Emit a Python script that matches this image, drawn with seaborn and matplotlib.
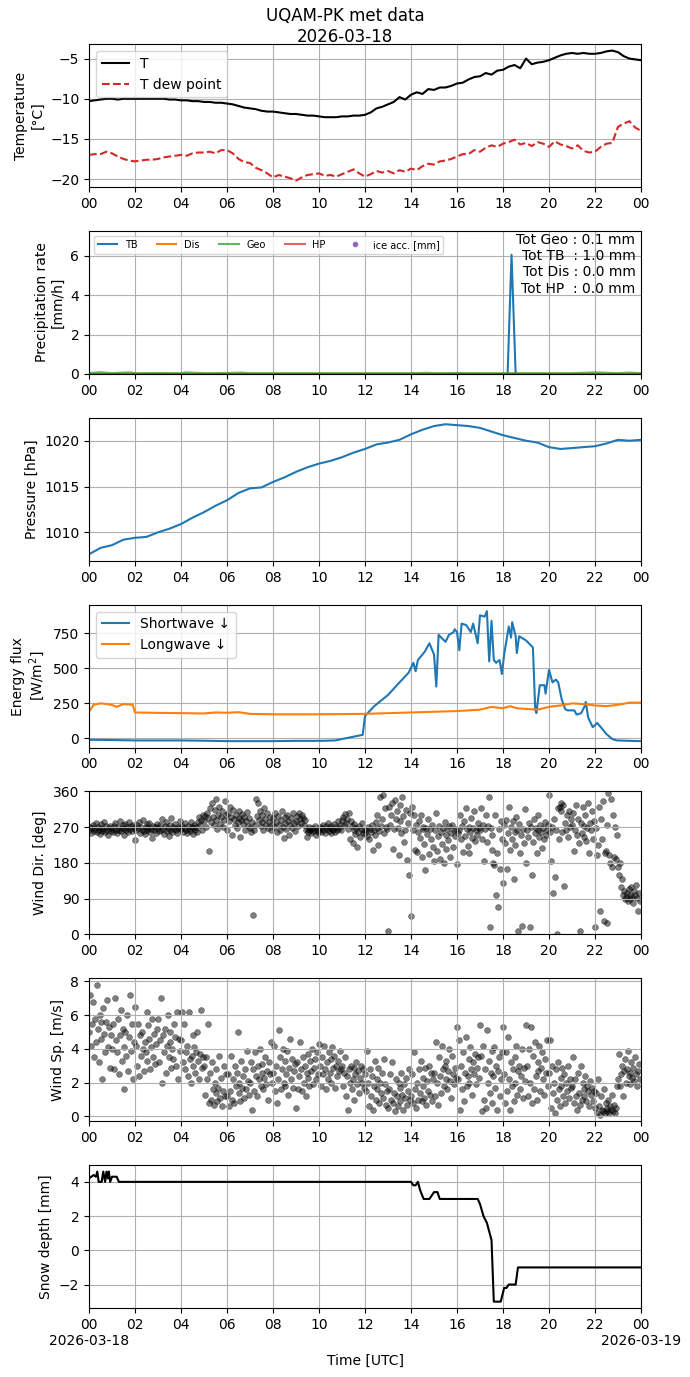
"""
UQAM-PK met data, daily summary plot (2026-03-18)
"""

import numpy as np
import pandas as pd
import matplotlib
matplotlib.use("Agg")
import matplotlib.pyplot as plt
import matplotlib.dates as mdates
import seaborn as sns

DAY = pd.Timestamp("2026-03-18")

# Temperature, 15 min steps [degC]
temp_hours = np.arange(0, 24.01, 0.25)
temp_air = [
    -10.3, -10.2, -10.1, -10.0, -10.0, -10.1, -10.0, -10.0,
    -10.0, -10.0, -10.0, -10.0, -10.0, -10.0, -10.1, -10.1,
    -10.2, -10.2, -10.3, -10.3, -10.4, -10.4, -10.5, -10.5,
    -10.6, -10.7, -10.9, -11.1, -11.2, -11.3, -11.5, -11.6,
    -11.6, -11.7, -11.8, -11.9, -11.9, -12.0, -12.1, -12.1,
    -12.2, -12.3, -12.3, -12.3, -12.2, -12.2, -12.1, -12.1,
    -12.0, -11.7, -11.2, -11.0, -10.7, -10.4, -9.8, -10.1,
    -9.5, -9.2, -9.4, -8.8, -8.9, -8.6, -8.6, -8.4,
    -8.1, -8.0, -7.6, -7.3, -7.2, -6.8, -7.0, -6.5,
    -6.4, -6.0, -5.8, -6.2, -5.0, -5.7, -5.5, -5.4,
    -5.2, -4.9, -4.6, -4.4, -4.3, -4.4, -4.3, -4.4,
    -4.4, -4.3, -4.1, -4.0, -4.2, -4.7, -5.0, -5.1,
    -5.2,
]
temp_dew = [
    -17.0, -16.9, -16.9, -16.6, -16.8, -17.2, -17.5, -17.7,
    -17.8, -17.7, -17.6, -17.6, -17.5, -17.3, -17.2, -17.1,
    -17.0, -17.1, -16.8, -16.7, -16.7, -16.6, -16.8, -16.4,
    -16.4, -16.8, -17.5, -17.9, -18.0, -18.6, -18.9, -19.3,
    -19.8, -19.5, -19.7, -19.9, -20.2, -19.8, -19.5, -19.4,
    -19.3, -19.6, -19.5, -19.7, -19.4, -19.1, -18.8, -19.3,
    -19.7, -19.4, -19.0, -19.2, -19.0, -19.3, -18.9, -19.1,
    -18.7, -18.9, -18.4, -18.1, -18.2, -17.8, -17.7, -17.5,
    -17.2, -16.9, -16.9, -16.4, -16.6, -16.1, -15.8, -16.0,
    -15.6, -15.4, -15.1, -15.7, -15.5, -15.9, -15.4, -15.6,
    -16.0, -15.3, -15.7, -15.9, -16.2, -15.8, -16.5, -16.7,
    -16.6, -16.0, -15.6, -15.5, -13.5, -13.1, -12.8, -13.6,
    -14.0,
]

# Precipitation rate [mm/h]
tb_hours = [18.2, 18.37, 18.55]
tb_rate = [0.0, 6.05, 0.0]
geo_hours = [0, 0.5, 1, 1.5, 1.8, 2, 3, 4, 4.2, 5, 6, 6.6, 7, 8, 9, 10, 11, 12,
             13, 14, 14.7, 15, 16, 17, 18, 19, 20, 21, 22, 23, 23.5, 24]
geo_rate = [0.05, 0.09, 0.04, 0.07, 0.08, 0.04, 0.05, 0.04, 0.08, 0.04, 0.05,
            0.07, 0.04, 0.04, 0.04, 0.04, 0.04, 0.04, 0.04, 0.04, 0.06, 0.04,
            0.05, 0.04, 0.04, 0.04, 0.04, 0.04, 0.08, 0.04, 0.07, 0.04]
dis_hours = [0, 24]
dis_rate = [0.0, 0.0]
hp_hours = [0, 24]
hp_rate = [0.0, 0.0]
ice_hours = [12.0]
ice_acc = [np.nan]
totals = {"Geo": 0.1, "TB": 1.0, "Dis": 0.0, "HP": 0.0}

# Pressure, 30 min steps [hPa]
pres_hours = np.arange(0, 24.01, 0.5)
pressure = [
    1007.6, 1008.3, 1008.6, 1009.2, 1009.4, 1009.5, 1010.0, 1010.4,
    1010.9, 1011.6, 1012.2, 1012.9, 1013.5, 1014.3, 1014.8, 1014.9,
    1015.5, 1016.0, 1016.6, 1017.1, 1017.5, 1017.8, 1018.2, 1018.7,
    1019.1, 1019.6, 1019.8, 1020.1, 1020.7, 1021.2, 1021.6, 1021.8,
    1021.7, 1021.6, 1021.4, 1021.0, 1020.6, 1020.3, 1020.0, 1019.8,
    1019.3, 1019.1, 1019.2, 1019.3, 1019.4, 1019.7, 1020.1, 1020.0,
    1020.1,
]

# Radiation [W/m2]
sw_hours = [0, 1, 2, 3, 4, 5, 6, 7, 8, 9, 10, 10.7, 11.3, 11.9, 12.0, 12.4,
            13.0, 13.5, 13.9, 14.1, 14.2, 14.3, 14.6, 14.8, 15.0, 15.1, 15.2,
            15.5, 15.65, 15.85, 15.9, 16.0, 16.1, 16.2, 16.4, 16.6, 16.7,
            16.9, 17.0, 17.2, 17.3, 17.4, 17.5, 17.6, 17.7, 17.85, 17.95,
            18.05, 18.25, 18.35, 18.4, 18.55, 18.6, 18.7, 19.0, 19.3, 19.4,
            19.45, 19.6, 19.8, 19.85, 20.0, 20.15, 20.3, 20.4, 20.55, 20.7,
            20.8, 21.1, 21.2, 21.4, 21.55, 21.6, 21.7, 21.9, 22.1, 22.3, 22.5,
            22.75, 22.95, 23.5, 24]
sw_down = [-10, -12, -15, -15, -15, -17, -20, -20, -20, -18, -18, -15, 5, 25,
           160, 230, 310, 400, 470, 540, 480, 560, 620, 680, 600, 370, 740,
           690, 740, 760, 780, 760, 630, 820, 810, 760, 820, 680, 880, 870,
           910, 550, 840, 560, 540, 560, 460, 600, 800, 720, 830, 730, 610,
           730, 700, 650, 210, 180, 380, 380, 320, 490, 400, 420, 400, 280,
           210, 200, 200, 170, 180, 230, 260, 150, 80, 110, 70, 30, -5, -15,
           -18, -20]
lw_hours = [0, 0.2, 0.5, 0.8, 1.0, 1.2, 1.5, 1.9, 2.0, 3, 4, 5, 5.5, 6, 6.5,
            7, 8, 10, 12, 14, 16, 17, 17.5, 18.0, 18.3, 18.6, 19.5, 20, 20.5,
            21, 21.5, 22, 22.5, 23, 23.5, 24]
lw_down = [190, 240, 250, 245, 238, 225, 245, 240, 185, 182, 180, 178, 185,
           183, 187, 175, 172, 172, 175, 185, 195, 205, 225, 215, 230, 215,
           205, 225, 235, 250, 245, 235, 230, 240, 255, 255]

# Wind, 2.5 min steps (one row per hour)
wind_dir = [
    262, 270, 255, 268, 275, 260, 266, 280, 258, 271, 264, 252, 269, 277, 261, 266, 283, 257, 272, 263, 250, 268, 274, 260,
    266, 259, 273, 281, 262, 255, 270, 264, 286, 260, 268, 275, 251, 266, 279, 262, 270, 258, 284, 265, 272, 260, 276, 267,
    238, 262, 275, 268, 283, 256, 271, 264, 288, 260, 252, 270, 277, 262, 268, 281, 259, 266, 244, 273, 262, 270, 255, 279,
    268, 260, 276, 262, 290, 266, 254, 272, 283, 261, 269, 248, 275, 264, 292, 258, 270, 266, 279, 262, 255, 271, 268, 285,
    265, 272, 258, 268, 280, 262, 255, 274, 266, 261, 282, 270, 252, 268, 276, 263, 270, 258, 284, 296, 275, 288, 262, 300,
    285, 298, 270, 305, 292, 210, 318, 282, 330, 296, 275, 312, 288, 340, 265, 300, 322, 278, 295, 310, 270, 288, 335, 300,
    262, 305, 285, 320, 295, 250, 312, 290, 275, 300, 268, 282, 310, 294, 245, 288, 303, 278, 296, 262, 285, 308, 272, 292,
    268, 258, 284, 48, 262, 275, 340, 298, 330, 288, 310, 272, 300, 282, 262, 318, 290, 276, 305, 268, 284, 296, 262, 278,
    292, 270, 305, 282, 258, 298, 275, 262, 288, 310, 270, 242, 295, 280, 265, 300, 285, 250, 276, 292, 268, 305, 281, 260,
    285, 298, 272, 305, 290, 280, 300, 292, 276, 288, 262, 245, 265, 258, 270, 262, 255, 268, 260, 266, 272, 250, 264, 258,
    262, 270, 258, 268, 276, 262, 255, 272, 266, 280, 260, 268, 274, 256, 266, 262, 278, 258, 270, 264, 285, 268, 275, 262,
    288, 296, 275, 302, 280, 290, 266, 305, 240, 285, 272, 230, 262, 278, 252, 268, 220, 258, 272, 245, 266, 280, 255, 262,
    255, 262, 248, 270, 240, 266, 258, 275, 212, 262, 250, 282, 268, 300, 225, 260, 345, 272, 290, 350, 255, 318, 270, 265,
    8, 322, 275, 300, 330, 215, 265, 338, 290, 310, 268, 200, 326, 285, 255, 345, 298, 232, 262, 312, 188, 280, 150, 305,
    46, 320, 262, 300, 212, 275, 208, 258, 285, 242, 300, 196, 265, 270, 228, 162, 268, 252, 290, 203, 265, 240, 275, 220,
    185, 262, 305, 210, 248, 272, 190, 258, 228, 268, 180, 282, 250, 214, 265, 238, 272, 196, 256, 275, 220, 262, 248, 266,
    178, 255, 262, 300, 240, 272, 208, 286, 248, 318, 265, 222, 270, 205, 258, 292, 244, 268, 310, 235, 262, 250, 280, 268,
    262, 318, 240, 276, 186, 265, 300, 232, 272, 345, 20, 268, 212, 250, 180, 175, 300, 100, 205, 70, 265, 165, 285, 240,
    130, 275, 230, 288, 165, 255, 320, 212, 270, 240, 285, 140, 258, 225, 295, 262, 10, 278, 205, 250, 22, 265, 230, 315,
    180, 262, 245, 280, 20, 270, 150, 232, 290, 255, 268, 205, 300, 262, 245, 275, 258, 218, 268, 240, 282, 250, 262, 275,
    352, 258, 185, 270, 105, 290, 145, 262, 0, 318, 240, 320, 330, 310, 258, 325, 122, 280, 262, 300, 245, 310, 270, 290,
    275, 305, 210, 262, 325, 250, 290, 230, 8, 280, 255, 320, 272, 245, 300, 235, 268, 330, 205, 280, 262, 310, 240, 285,
    20, 268, 200, 225, 320, 60, 290, 240, 335, 35, 205, 210, 275, 30, 355, 200, 180, 340, 170, 300, 195, 270, 190, 250,
    170, 150, 180, 120, 140, 100, 110, 90, 95, 105, 85, 115, 100, 90, 120, 95, 80, 110, 100, 125, 92, 60, 105, 85,
]
wind_speed = [
    5.0, 7.2, 4.2, 5.5, 6.8, 3.5, 5.8, 4.4, 7.8, 5.2, 3.2, 6.0, 4.6, 5.6, 2.2, 6.4, 4.9, 3.8, 5.6, 6.9, 4.1, 5.3, 2.9, 4.8,
    4.0, 5.5, 2.8, 7.0, 4.5, 3.8, 5.8, 2.5, 4.8, 6.3, 3.3, 5.2, 4.1, 1.6, 5.0, 3.6, 6.0, 2.7, 4.7, 7.2, 3.9, 5.5, 2.2, 4.4,
    6.5, 4.2, 3.0, 5.5, 2.4, 4.8, 3.6, 5.0, 4.0, 2.7, 4.4, 3.8, 6.2, 3.3, 5.4, 4.6, 2.8, 4.1, 5.8, 3.5, 4.9, 3.1, 4.3, 5.2,
    5.8, 3.2, 4.5, 7.0, 2.0, 4.8, 3.8, 5.2, 2.6, 4.2, 6.0, 3.5, 4.4, 5.0, 2.9, 4.0, 3.4, 5.5, 4.7, 3.0, 6.2, 2.2, 4.6, 3.9,
    4.5, 6.2, 3.2, 5.5, 2.8, 3.8, 4.2, 2.4, 6.2, 3.4, 2.0, 3.6, 4.8, 3.0, 4.1, 2.6, 3.8, 5.0, 3.3, 2.2, 3.7, 6.3, 2.9, 3.5,
    3.0, 1.3, 3.5, 2.2, 5.5, 0.8, 2.6, 1.0, 3.2, 1.6, 0.7, 2.0, 1.4, 2.8, 0.9, 1.7, 3.6, 1.1, 2.3, 0.6, 1.5, 3.0, 1.2, 2.5,
    1.2, 2.5, 0.6, 1.5, 3.6, 1.0, 2.2, 0.8, 3.0, 1.8, 2.6, 5.0, 1.4, 2.0, 0.9, 3.3, 1.7, 2.4, 1.1, 2.8, 1.6, 3.9, 2.1, 1.3,
    2.0, 3.2, 0.4, 2.8, 1.5, 3.8, 2.4, 1.2, 3.0, 2.2, 4.0, 1.8, 2.6, 3.1, 1.6, 2.3, 3.5, 1.9, 2.7, 1.0, 3.2, 2.5, 4.4, 2.0,
    2.6, 4.2, 1.5, 3.0, 0.8, 2.2, 5.1, 3.5, 1.6, 2.8, 4.0, 2.0, 3.3, 1.8, 2.5, 3.9, 1.3, 2.9, 4.6, 2.2, 3.4, 1.7, 2.7, 3.1,
    0.5, 3.2, 1.6, 2.4, 4.4, 2.8, 1.5, 3.5, 2.0, 3.0, 1.2, 2.6, 3.7, 2.3, 1.8, 3.3, 2.7, 4.0, 1.9, 2.9, 3.4, 2.2, 3.8, 2.5,
    4.3, 3.0, 1.8, 3.5, 2.5, 4.2, 2.8, 1.6, 3.2, 2.2, 3.8, 2.6, 3.4, 2.0, 4.1, 2.9, 3.6, 1.7, 3.0, 2.4, 3.3, 2.7, 3.9, 2.8,
    3.0, 1.8, 2.6, 3.5, 1.2, 2.4, 0.4, 2.8, 2.0, 3.0, 1.6, 2.2, 2.9, 1.0, 2.5, 3.2, 1.9, 2.7, 1.4, 2.3, 3.0, 2.0, 2.8, 1.7,
    2.5, 1.5, 3.9, 2.0, 0.6, 2.8, 1.2, 2.4, 0.4, 1.8, 3.3, 1.0, 2.2, 1.6, 2.9, 0.8, 2.0, 1.4, 2.6, 1.1, 3.4, 1.9, 0.7, 1.5,
    0.5, 1.6, 2.5, 1.0, 3.2, 0.8, 1.4, 0.3, 2.2, 1.2, 0.6, 2.0, 1.7, 0.9, 2.6, 1.3, 0.4, 1.9, 1.1, 2.3, 0.7, 1.5, 2.8, 1.0,
    1.2, 2.5, 0.8, 3.8, 1.6, 0.5, 2.0, 1.0, 2.8, 1.4, 3.3, 0.9, 1.8, 2.3, 1.1, 2.9, 0.7, 2.1, 1.5, 3.0, 1.3, 2.6, 0.9, 2.2,
    2.6, 1.2, 4.4, 2.0, 0.7, 3.5, 2.4, 1.4, 4.2, 2.8, 1.8, 3.0, 2.2, 3.3, 1.6, 2.7, 4.0, 2.1, 1.1, 3.6, 2.5, 1.9, 2.9, 2.3,
    5.3, 2.2, 4.5, 0.4, 3.0, 1.6, 3.8, 0.9, 2.6, 4.7, 1.8, 2.4, 3.4, 2.0, 4.1, 2.8, 1.3, 3.2, 2.5, 3.7, 1.9, 2.9, 3.5, 2.3,
    5.4, 3.6, 0.3, 4.2, 1.0, 2.8, 0.5, 5.1, 2.0, 3.3, 1.4, 2.6, 3.9, 0.8, 2.4, 4.1, 1.7, 3.0, 0.4, 2.7, 3.5, 1.2, 2.2, 3.8,
    5.3, 2.5, 0.8, 3.8, 1.5, 4.7, 2.2, 0.4, 3.2, 1.8, 2.8, 0.9, 3.5, 2.0, 4.2, 1.3, 2.7, 3.0, 1.6, 2.4, 4.0, 1.1, 2.9, 2.1,
    5.4, 3.0, 1.2, 4.0, 2.0, 5.3, 0.8, 3.6, 1.6, 4.4, 2.4, 1.0, 3.2, 2.7, 4.2, 1.5, 2.9, 3.8, 2.2, 1.3, 3.4, 2.6, 4.5, 1.8,
    2.6, 4.5, 0.5, 3.0, 1.4, 2.0, 0.2, 2.8, 1.0, 3.2, 1.6, 0.6, 2.3, 1.8, 2.9, 1.2, 2.5, 0.8, 2.0, 1.5, 3.0, 1.1, 2.2, 1.7,
    1.8, 3.5, 0.8, 2.2, 1.2, 0.4, 2.6, 1.4, 0.7, 3.0, 1.0, 2.0, 1.6, 1.2, 2.4, 0.9, 1.8, 1.5, 0.6, 2.1, 1.3, 1.7, 0.9, 1.5,
    0.5, 1.4, 0.2, 2.2, 0.6, 0.1, 1.2, 0.4, 0.3, 1.6, 0.2, 0.8, 0.5, 0.3, 1.0, 0.2, 0.6, 0.4, 1.3, 0.3, 0.7, 0.2, 0.5, 1.8,
    2.2, 3.7, 1.8, 2.5, 3.0, 1.2, 2.7, 3.4, 2.0, 2.8, 3.9, 2.4, 2.6, 1.9, 3.2, 2.3, 2.9, 2.1, 3.5, 2.5, 1.8, 2.7, 3.1, 2.2,
]

# Snow depth [mm]
snow_hours = [0, 0.1, 0.2, 0.3, 0.36, 0.42, 0.55, 0.62, 0.7, 0.76, 0.82, 0.86,
              0.92, 1.0, 1.2, 1.3, 14.0, 14.1, 14.2, 14.3, 14.4, 14.55, 14.8,
              15.0, 15.15, 15.25, 16.9, 17.0, 17.15, 17.3, 17.5, 17.6, 17.9,
              18.05, 18.15, 18.25, 18.55, 18.65, 24.0]
snow_depth = [4.2, 4.3, 4.4, 4.3, 4.6, 4.0, 4.0, 4.6, 4.0, 4.6, 4.2, 4.6, 4.0,
              4.3, 4.3, 4.0, 4.0, 3.8, 3.8, 4.0, 3.5, 3.0, 3.0, 3.4, 3.4, 3.0,
              3.0, 2.7, 2.0, 1.6, 0.6, -3.0, -3.0, -2.2, -2.2, -2.0, -2.0,
              -1.0, -1.0]


def to_time(hours):
    return DAY + pd.to_timedelta(np.asarray(hours, dtype=float), unit="h")


def last_axis_label(x, pos):
    d = mdates.num2date(x)
    if d.hour == 0:
        return d.strftime("%H\n%Y-%m-%d")
    return d.strftime("%H")


# evenly spaced wind samples across the day
wind_hours = np.arange(len(wind_dir)) * 24.0 / len(wind_dir)

fig, axes = plt.subplots(7, 1, figsize=(6.9, 13.77), dpi=100)
fig.subplots_adjust(left=0.129, right=0.929, top=0.968, bottom=0.050,
                    hspace=0.306)
fig.suptitle("UQAM-PK met data\n2026-03-18", fontsize=12, y=0.995)

# 1. temperature
ax = axes[0]
sns.lineplot(x=to_time(temp_hours), y=temp_air, ax=ax, color="k", lw=1.5,
             label="T")
sns.lineplot(x=to_time(temp_hours), y=temp_dew, ax=ax, color="tab:red",
             lw=1.5, ls="--", label="T dew point")
ax.set_ylabel("Temperature\n[°C]")
ax.legend(loc="upper left", fontsize=10)

# 2. precipitation
ax = axes[1]
sns.lineplot(x=to_time(tb_hours), y=tb_rate, ax=ax, color="tab:blue",
             label="TB")
sns.lineplot(x=to_time(dis_hours), y=dis_rate, ax=ax, color="tab:orange",
             label="Dis")
sns.lineplot(x=to_time(geo_hours), y=geo_rate, ax=ax, color="tab:green",
             alpha=0.75, label="Geo")
sns.lineplot(x=to_time(hp_hours), y=hp_rate, ax=ax, color="tab:red",
             alpha=0.7, label="HP")
ax.plot(to_time(ice_hours), ice_acc, ".", color="tab:purple",
        label="ice acc. [mm]")
ax.set_ylim(0, 1.2 * max(tb_rate))
ax.set_ylabel("Precipitation rate\n[mm/h]")
ax.legend(loc="upper left", ncol=5, fontsize=7)
tot_txt = (f"Tot Geo : {totals['Geo']:.1f} mm\n"
           f"Tot TB  : {totals['TB']:.1f} mm\n"
           f"Tot Dis : {totals['Dis']:.1f} mm\n"
           f"Tot HP  : {totals['HP']:.1f} mm")
ax.text(0.99, 0.985, tot_txt, transform=ax.transAxes, ha="right", va="top",
        multialignment="right", fontsize=10)

# 3. pressure
ax = axes[2]
sns.lineplot(x=to_time(pres_hours), y=pressure, ax=ax, color="tab:blue")
ax.set_ylabel("Pressure [hPa]")

# 4. radiation
ax = axes[3]
sns.lineplot(x=to_time(sw_hours), y=sw_down, ax=ax, color="tab:blue",
             label="Shortwave ↓")
sns.lineplot(x=to_time(lw_hours), y=lw_down, ax=ax, color="tab:orange",
             label="Longwave ↓")
ax.set_ylabel("Energy flux\n[W/m$^2$]")
ax.legend(loc="upper left", fontsize=10)

# 5. wind direction
ax = axes[4]
sns.scatterplot(x=to_time(wind_hours), y=wind_dir, ax=ax, color="k",
                alpha=0.5, s=18, edgecolor="k", linewidth=0.4)
ax.set_ylim(0, 360)
ax.set_yticks([0, 90, 180, 270, 360])
ax.set_ylabel("Wind Dir. [deg]")

# 6. wind speed
ax = axes[5]
sns.scatterplot(x=to_time(wind_hours), y=wind_speed, ax=ax, color="k",
                alpha=0.5, s=18, edgecolor="k", linewidth=0.4)
ax.set_ylabel("Wind Sp. [m/s]")

# 7. snow depth
ax = axes[6]
sns.lineplot(x=to_time(snow_hours), y=snow_depth, ax=ax, color="k")
ax.set_ylabel("Snow depth [mm]")
ax.set_xlabel("Time [UTC]")

for i, ax in enumerate(axes):
    ax.set_xlim(DAY, DAY + pd.Timedelta(days=1))
    ax.xaxis.set_major_locator(mdates.HourLocator(byhour=range(0, 24, 2)))
    if i == len(axes) - 1:
        ax.xaxis.set_major_formatter(plt.FuncFormatter(last_axis_label))
    else:
        ax.xaxis.set_major_formatter(mdates.DateFormatter("%H"))
        ax.set_xlabel("")
    ax.grid(True)

fig.savefig("out.png", dpi=100)
